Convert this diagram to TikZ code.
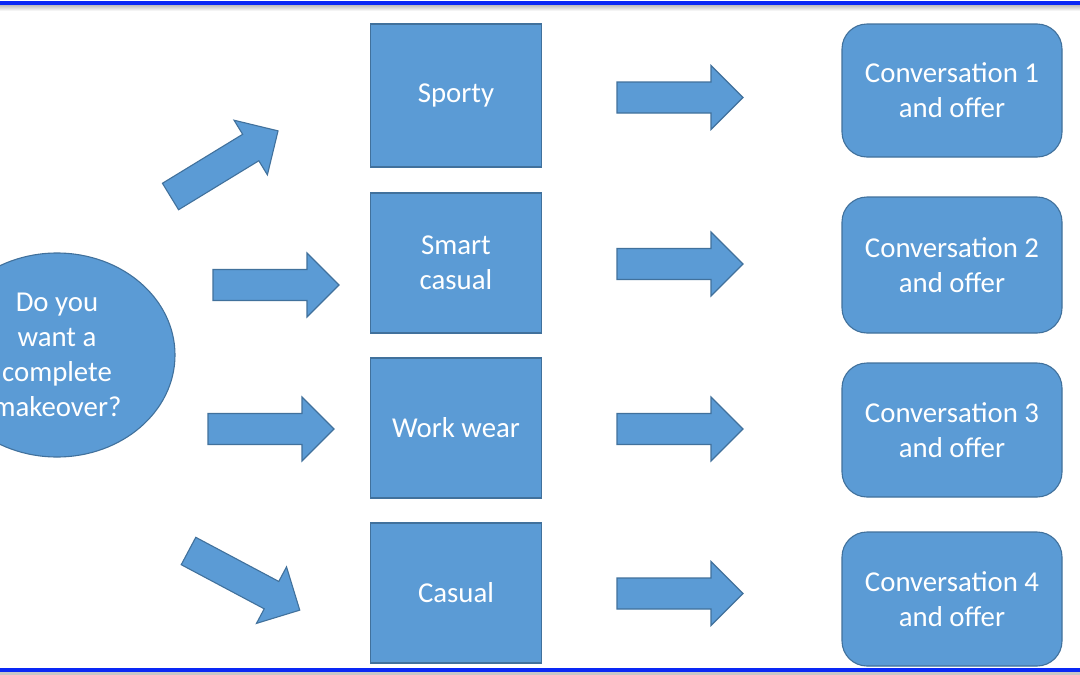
\documentclass[tikz,border=0pt]{standalone}
\usepackage{fontspec}
\setmainfont{Carlito}
\usetikzlibrary{shapes.geometric}
\definecolor{fillblue}{RGB}{91,155,213}
\definecolor{edgeblue}{RGB}{65,113,156}
\definecolor{frameblue}{RGB}{10,40,245}
\tikzset{
  shapestyle/.style={fill=fillblue, draw=edgeblue, line width=1.1pt, line join=miter},
  lbl/.style={text=white, align=center, font=\fontsize{28.8}{35}\selectfont},
  sqbox/.style={shapestyle, lbl, rectangle, minimum width=171pt, minimum height=141pt, inner sep=0pt},
  offerbox/.style={shapestyle, lbl, rectangle, rounded corners=25pt, minimum width=220pt, minimum height=134pt, inner sep=0pt},
  question/.style={shapestyle, lbl, ellipse, minimum width=236pt, minimum height=204pt, inner sep=0pt},
  blockarrow/.pic={\draw[shapestyle] (0,-15.5) -- (94,-15.5) -- (94,-32) -- (126,0) -- (94,32) -- (94,15.5) -- (0,15.5) -- cycle;}
}
\begin{document}
\begin{tikzpicture}[x=1pt,y=-1pt]
\clip (0,0) rectangle (1080,675);
\fill[white] (0,0) rectangle (1080,675);
% frame lines
\shade[top color=black!30, bottom color=white] (0,4) rectangle (1080,11);
\fill[frameblue] (0,1) rectangle (1080,4.5);
\fill[black!22] (0,671.5) rectangle (1080,675);
\fill[frameblue] (0,667.5) rectangle (1080,671.5);
% question
\node[question] (q) at (57,355) {Do you\\want a\\complete\\makeover?};
% styles
\node[sqbox, minimum height=143pt] (sporty) at (456,95.5) {Sporty};
\node[sqbox, minimum height=140pt] (smart) at (456,263) {Smart\\casual};
\node[sqbox, minimum height=140pt] (work) at (456,428) {Work wear};
\node[sqbox, minimum height=140pt] (casual) at (456,593) {Casual};
% offers
\node[offerbox, minimum height=133pt] (c1) at (952,90.5) {Conversation 1\\and offer};
\node[offerbox, minimum height=136pt] (c2) at (952,265) {Conversation 2\\and offer};
\node[offerbox] (c3) at (952,430) {Conversation 3\\and offer};
\node[offerbox] (c4) at (952,599) {Conversation 4\\and offer};
% left arrows
\pic[rotate=31.4] at (170.5,196.5) {blockarrow};
\pic at (213,285) {blockarrow};
\pic at (208,429) {blockarrow};
\pic[rotate=-28] at (188.5,551) {blockarrow};
% right arrows
\pic at (617,97.5) {blockarrow};
\pic at (617,264) {blockarrow};
\pic at (617,429) {blockarrow};
\pic at (617,593.5) {blockarrow};
\end{tikzpicture}
\end{document}
